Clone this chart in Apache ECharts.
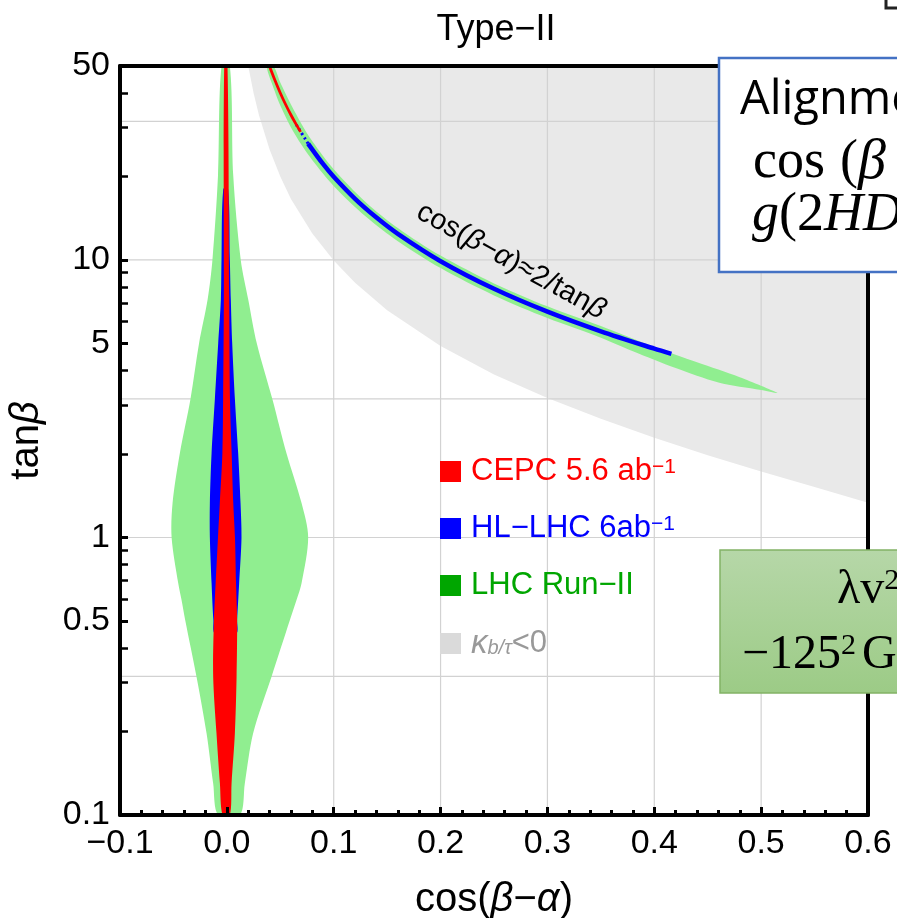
<!DOCTYPE html>
<html><head><meta charset="utf-8">
<script src="https://cdn.jsdelivr.net/npm/echarts@6/dist/echarts.min.js"></script>
<style>html,body{margin:0;padding:0;background:#fff}#c{width:897px;height:918px}</style>
</head><body><div id="c"></div>
<script>
// ---------------- data ----------------
const yTickLabels = [0.1, 0.5, 1, 5, 10, 50];
const yMinorTicks = [0.2,0.3,0.4,0.6,0.7,0.8,0.9,2,3,4,6,7,8,9,20,30,40];
const gridCos = [0.1, 0.2, 0.3, 0.4, 0.5];
const gridTan = [0.316, 1, 3.16, 10, 31.6];

// central (right-sign) region: rows of tanβ with left/right cos(β−α) edges
const blobTan    = [0.1, 0.13, 0.197, 0.315, 0.504, 0.595, 0.684, 1.0, 1.33, 2.01, 3.16, 5.01, 7.2, 10, 20.1, 50];
const greenLeft  = [-0.0081,-0.0128,-0.019,-0.0284,-0.039,-0.0424,-0.0455,-0.0517,-0.0508,-0.044,-0.034,-0.026,-0.018,-0.0135,-0.0083,-0.005];
const greenRight = [0.0122,0.0168,0.0246,0.0418,0.059,0.0652,0.0699,0.0761,0.0699,0.0558,0.0425,0.028,0.02,0.013,0.006,0.0028];

const blueTan   = [0.45, 0.504, 0.684, 1.0, 1.33, 2.01, 3.16, 5.01, 7.2, 10, 18];
const blueLeft  = [-0.0112,-0.0126,-0.0143,-0.0159,-0.0159,-0.0143,-0.0112,-0.0081,-0.0056,-0.005,-0.0034];
const blueRight = [0.0088,0.0096,0.0115,0.0137,0.0128,0.0106,0.0075,0.005,0.0037,0.0028,0.0012];

const redTan   = [0.1, 0.13, 0.197, 0.315, 0.504, 0.684, 1.0, 1.33, 2.01, 3.16, 7.2, 50];
const redLeft  = [-0.004,-0.0065,-0.0097,-0.0128,-0.0121,-0.0105,-0.0083,-0.0066,-0.0042,-0.0035,-0.0028,-0.0025];
const redRight = [0.0028,0.0044,0.0075,0.0091,0.0096,0.0086,0.0076,0.006,0.0045,0.0029,0.0022,0.0006];

// wrong-sign branch: LHC band outline
const bandUpperCos = [0.0435,0.05,0.06,0.07,0.08,0.10,0.13,0.16,0.20,0.25,0.30,0.35,0.40,0.44,0.48,0.515];
const bandUpperTan = [50,43.6,36.3,30.85,26.78,21.23,16.16,13.05,10.37,8.235,6.806,5.778,4.86,4.28,3.78,3.32];
const bandLowerCos = [0.50,0.46,0.42,0.38,0.35,0.30,0.25,0.20,0.16,0.13,0.10,0.08,0.07,0.06,0.05,0.045,0.0372];
const bandLowerTan = [3.40,3.62,4.08,4.69,5.245,6.173,7.448,9.347,11.68,14.34,18.49,22.88,25.94,30.0,36.0,40.4,50];

// wrong-sign branch: HL-LHC and CEPC lines
const blueLineCos = [0.076,0.09,0.10,0.12,0.14,0.16,0.20,0.25,0.30,0.35,0.40,0.416];
const blueLineTan = [26.27,22.18,19.95,16.61,14.22,12.42,9.899,7.873,6.513,5.534,4.791,4.59];
const blueDashCos = [0.065,0.076];
const blueDashTan = [30.73,26.27];
const redLineCos  = [0.0398,0.045,0.05,0.055,0.06,0.065,0.069];
const redLineTan  = [50,44.42,39.98,36.33,33.30,30.73,28.95];

// κ_{b/τ}<0 region boundary
const kappaCos = [0.020,0.025,0.03,0.04,0.05,0.06,0.08,0.10,0.12,0.15,0.2,0.25,0.3,0.35,0.4,0.45,0.5,0.55,0.6,0.6];
const kappaTan = [50,40.0,33.3,25.0,19.97,16.6,12.46,9.95,8.27,6.59,4.90,3.87,3.18,2.68,2.29,1.98,1.73,1.52,1.333,50];

// annotation anchor
const curveLabelPos = [0.266, 9.9];

// ---------------- helpers ----------------
const SANS = '"Liberation Sans", Arial, sans-serif';
const SERIF = '"Liberation Serif", "Times New Roman", serif';
const zip = (xs, ys) => xs.map((x, i) => [x, ys[i]]);
const blobOutline = (tan, L, R) => zip(L, tan).concat(zip(R, tan).reverse());

const N_CEPC = 'CEPC 5.6 ab−1', N_HL = 'HL−LHC 6ab−1', N_LHC = 'LHC Run−II', N_K = 'κb/τ<0';

function polySeries(name, pts, color, smooth) {
  return {
    type: 'custom', name, coordinateSystem: 'cartesian2d', clip: true, silent: true,
    itemStyle: { color }, data: pts,
    renderItem: (params, api) => {
      if (params.dataIndex !== 0) return null;
      return { type: 'polygon', shape: { points: pts.map(p => api.coord(p)), smooth: smooth || 0 },
               style: { fill: color } };
    }
  };
}
function lineSeries(name, pts, color, width, dash) {
  return {
    type: 'line', name, data: pts, showSymbol: false, symbol: 'none', smooth: 0.3,
    clip: true, silent: true, itemStyle: { color },
    lineStyle: { color, width, type: dash ? [2, 3] : 'solid', cap: 'butt' }
  };
}

const series = [
  polySeries(N_K, zip(kappaCos, kappaTan), '#e9e9e9', 0),
  {
    type: 'custom', name: 'gridlines', silent: true, clip: true, data: [[0, 1]],
    renderItem: (params, api) => {
      if (params.dataIndex !== 0) return null;
      const ch = [];
      const st = { stroke: '#d2d2d2', lineWidth: 1.2 };
      gridCos.forEach(c => { const a = api.coord([c, yTickLabels[0]]), b = api.coord([c, yTickLabels[yTickLabels.length-1]]);
        ch.push({ type: 'line', shape: { x1: a[0], y1: a[1], x2: b[0], y2: b[1] }, style: st }); });
      gridTan.forEach(t => { const a = api.coord([-0.1, t]), b = api.coord([0.6, t]);
        ch.push({ type: 'line', shape: { x1: a[0], y1: a[1], x2: b[0], y2: b[1] }, style: st }); });
      return { type: 'group', children: ch };
    }
  },
  polySeries(N_LHC, blobOutline(blobTan, greenLeft, greenRight), '#90ee90', 0.3),
  polySeries(N_LHC, zip(bandUpperCos, bandUpperTan).concat(zip(bandLowerCos, bandLowerTan)), '#90ee90', 0.3),
  polySeries(N_HL, blobOutline(blueTan, blueLeft, blueRight), '#0000ff', 0.3),
  polySeries(N_CEPC, blobOutline(redTan, redLeft, redRight), '#ff0000', 0.3),
  lineSeries(N_HL, zip(blueLineCos, blueLineTan), '#0000ff', 4.5),
  lineSeries(N_HL, zip(blueDashCos, blueDashTan), '#0000ff', 3, true),
  lineSeries(N_CEPC, zip(redLineCos, redLineTan), '#ff0000', 2.8),
  {
    type: 'custom', name: 'curveLabel', silent: true, data: [curveLabelPos],
    renderItem: (params, api) => {
      const p = api.coord(curveLabelPos);
      return { type: 'text', x: p[0], y: p[1], rotation: -29 * Math.PI / 180,
        style: { text: '{n|cos(}{i|β}{n|−}{i|α}{n|)≈2/tan}{i|β}', align: 'center', verticalAlign: 'middle',
          rich: { n: { fontSize: 29, fontFamily: SANS, fill: '#000' },
                  i: { fontSize: 29, fontFamily: SANS, fontStyle: 'italic', fill: '#000' } } } };
    }
  }
];

const legendText = {};
legendText[N_CEPC] = '{r|CEPC 5.6 ab}{rs|−1}';
legendText[N_HL] = '{b|HL−LHC 6ab}{bs|−1}';
legendText[N_LHC] = '{g|LHC Run−II}';
legendText[N_K] = '{k|κ}{ks|b/τ}{kn|<0}';
const main = c => ({ color: c, fontSize: 31, lineHeight: 30, fontFamily: SANS });
const first = c => Object.assign(main(c), { padding: [0, 0, 0, 5] });
const sup = c => ({ color: c, fontSize: 21, lineHeight: 10, verticalAlign: 'top', fontFamily: SANS });

const chart = echarts.init(document.getElementById('c'), null, { renderer: 'canvas' });
chart.setOption({
  animation: false,
  backgroundColor: '#ffffff',
  title: { text: 'Type−II', left: 491, top: 7, textAlign: 'center',
    textStyle: { fontSize: 36, fontWeight: 'normal', color: '#000', fontFamily: SANS } },
  grid: { left: 120, right: 29, top: 66, bottom: 103, containLabel: false, outerBoundsMode: 'none' },
  xAxis: [
    { type: 'value', min: -0.1, max: 0.6, interval: 0.1, position: 'bottom', z: 10,
      axisLine: { onZero: false, lineStyle: { color: '#000', width: 4 } },
      axisTick: { inside: true, length: 8, lineStyle: { color: '#000', width: 3 } },
      minorTick: { show: true, splitNumber: 5, length: 5, lineStyle: { color: '#000', width: 3 } },
      splitLine: { show: false },
      axisLabel: { color: '#000', fontSize: 34, fontFamily: SANS, margin: 12,
        formatter: v => (v < -1e-9 ? '−' : '') + Math.abs(v).toFixed(1) },
      name: '{n|cos(}{i|β}{n|−}{i|α}{n|)}', nameLocation: 'middle', nameGap: 65,
      nameTextStyle: { rich: { n: { fontSize: 40, fontFamily: SANS, color: '#000' },
                               i: { fontSize: 40, fontFamily: SANS, fontStyle: 'italic', color: '#000' } } } },
    { type: 'value', min: -0.1, max: 0.6, position: 'top', z: 10,
      axisLine: { onZero: false, lineStyle: { color: '#000', width: 4 } },
      axisTick: { show: false }, axisLabel: { show: false }, splitLine: { show: false } }
  ],
  yAxis: [
    { type: 'log', logBase: 10, min: yTickLabels[0], max: yTickLabels[yTickLabels.length-1], position: 'left', z: 10,
      axisLine: { onZero: false, lineStyle: { color: '#000', width: 4 } },
      axisTick: { inside: true, length: 8, customValues: yTickLabels, lineStyle: { color: '#000', width: 3 } },
      axisLabel: { customValues: yTickLabels, color: '#000', fontSize: 34, fontFamily: SANS, margin: 10,
        formatter: v => String(+(+v).toPrecision(3)) },
      splitLine: { show: false }, minorTick: { show: false },
      name: '{n|tan}{i|β}', nameLocation: 'middle', nameGap: 73, nameRotate: 90,
      nameTextStyle: { rich: { n: { fontSize: 40, fontFamily: SANS, color: '#000' },
                               i: { fontSize: 40, fontFamily: SANS, fontStyle: 'italic', color: '#000' } } } },
    { type: 'log', logBase: 10, min: yTickLabels[0], max: yTickLabels[yTickLabels.length-1], position: 'left', z: 10,
      axisLine: { show: false, onZero: false },
      axisTick: { inside: true, length: 8, customValues: yMinorTicks, lineStyle: { color: '#000', width: 2.5 } },
      axisLabel: { show: false }, splitLine: { show: false } },
    { type: 'log', logBase: 10, min: yTickLabels[0], max: yTickLabels[yTickLabels.length-1], position: 'right', z: 10,
      axisLine: { show: true, onZero: false, lineStyle: { color: '#000', width: 4 } },
      axisTick: { show: false }, axisLabel: { show: false }, splitLine: { show: false } }
  ],
  legend: {
    orient: 'vertical', left: 440, top: 456, padding: 0, itemWidth: 21, itemHeight: 21, itemGap: 26, itemTextGap: 10,
    icon: 'rect', selectedMode: false, z: 20,
    data: [
      { name: N_CEPC, itemStyle: { color: '#ff0000' } },
      { name: N_HL, itemStyle: { color: '#0000ff' } },
      { name: N_LHC, itemStyle: { color: '#00a600' } },
      { name: N_K, itemStyle: { color: '#dadada' } }
    ],
    formatter: n => legendText[n],
    textStyle: { fontSize: 31, fontFamily: SANS, rich: {
      r: first('#ff0000'), rs: sup('#ff0000'),
      b: first('#0000ff'), bs: sup('#0000ff'),
      g: first('#00a600'),
      k: Object.assign(first('#999999'), { fontStyle: 'italic', fontSize: 33 }),
      ks: { color: '#999999', fontSize: 20, lineHeight: 20, verticalAlign: 'bottom', fontStyle: 'italic', fontFamily: SANS },
      kn: main('#999999')
    } }
  },
  graphic: [
    { type: 'rect', z: 100, shape: { x: 719, y: 58, width: 200, height: 214 },
      style: { fill: '#ffffff', stroke: '#4472c4', lineWidth: 2.5 } },
    { type: 'text', z: 101, x: 740, y: 101,
      style: { text: 'Alignme', fontSize: 47, fontFamily: '"Open Sans", sans-serif', fill: '#000', verticalAlign: 'middle' } },
    { type: 'text', z: 101, x: 753, y: 163,
      style: { text: 'cos', fontSize: 54, fontFamily: SERIF, fill: '#000', verticalAlign: 'middle' } },
    { type: 'text', z: 101, x: 840, y: 163,
      style: { text: '{u|(}{i|β}', verticalAlign: 'middle', fill: '#000',
        rich: { u: { fontSize: 54, fontFamily: SERIF, fill: '#000' },
                i: { fontSize: 56, fontFamily: SERIF, fontStyle: 'italic', fill: '#000' } } } },
    { type: 'text', z: 101, x: 752, y: 216,
      style: { text: '{i|g}{u|(2}{i|HD}', verticalAlign: 'middle', fill: '#000',
        rich: { u: { fontSize: 54, fontFamily: SERIF, fill: '#000' }, i: { fontSize: 54, fontFamily: SERIF, fontStyle: 'italic', fill: '#000' } } } },
    { type: 'rect', z: 100, shape: { x: 720, y: 550, width: 200, height: 143 },
      style: { fill: new echarts.graphic.LinearGradient(0, 0, 0, 1, [{ offset: 0, color: '#b6d7a8' }, { offset: 1, color: '#9ccb86' }]),
        stroke: '#82b366', lineWidth: 1.5 } },
    { type: 'text', z: 101, x: 837, y: 590,
      style: { text: '{u|λv}{s|2}', verticalAlign: 'middle', fill: '#000',
        rich: { u: { fontSize: 48, fontFamily: SERIF, fill: '#000' }, s: { fontSize: 30, fontFamily: SERIF, fill: '#000', verticalAlign: 'top', lineHeight: 30 } } } },
    { type: 'text', z: 101, x: 742, y: 655,
      style: { text: '{u|−125}{s|2}{u|G}', verticalAlign: 'middle', fill: '#000',
        rich: { u: { fontSize: 48, fontFamily: SERIF, fill: '#000' }, s: { fontSize: 30, fontFamily: SERIF, fill: '#000', verticalAlign: 'top', lineHeight: 30, padding: [0, 6, 0, 0] } } } },
    { type: 'polyline', z: 100, shape: { points: [[886, 0], [886, 8], [897, 8]] },
      style: { stroke: '#222', lineWidth: 3, fill: null } }
  ],
  series
});
</script>
</body></html>
